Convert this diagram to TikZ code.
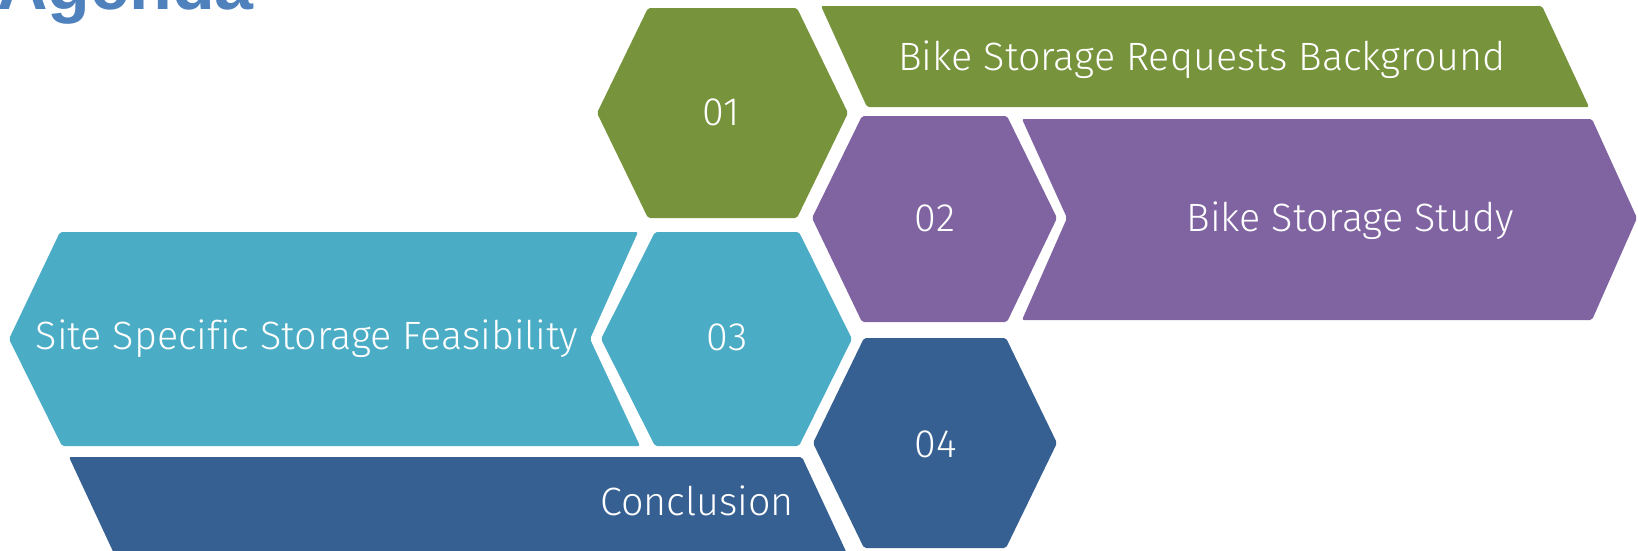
\documentclass[tikz,border=0pt]{standalone}
\usepackage{fontspec}
\setmainfont{Liberation Sans}
\newfontfamily\lightfont[Ligatures=CommonOff]{Fira Sans Light}
\definecolor{agendablue}{HTML}{4F81BD}
\definecolor{olivegreen}{HTML}{77933C}
\definecolor{lavender}{HTML}{8064A2}
\definecolor{aqua}{HTML}{4BACC6}
\definecolor{navy}{HTML}{366092}
\begin{document}
\begin{tikzpicture}[x=1pt, y=-1pt,
        tile/.style = {rounded corners=2pt},
        label/.style = {text=white, anchor=base, inner sep=0pt, font=\lightfont\fontsize{39.5}{47}\selectfont},
        number/.style = {label}]
            \useasboundingbox (0,0) rectangle (1638,550);
            \clip (0,0) rectangle (1638,550);
            % title, cut off at the top
            \node[anchor=base west, inner sep=0pt, text=agendablue, font=\bfseries\fontsize{70}{84}\selectfont] (title) at (-3,9) {Agenda};
            % step 01
            \fill[tile, olivegreen] (648,8) -- (797,8) -- (848,113) -- (797,218) -- (648,218) -- (597,113) -- cycle;
            \fill[tile, olivegreen] (821,6) -- (1542,6) -- (1589,107) -- (867,107) -- cycle;
            % step 02
            \fill[tile, lavender] (862,116) -- (1007,116) -- (1057,218) -- (1007,322) -- (862,322) -- (812,218) -- cycle;
            \fill[tile, lavender] (1022,119) -- (1592,119) -- (1637,218) -- (1592,320) -- (1022,320) -- (1067,218) -- cycle;
            % step 03
            \fill[tile, aqua] (655,232) -- (799,232) -- (852,339) -- (799,446) -- (655,446) -- (601,339) -- cycle;
            \fill[tile, aqua] (60,232) -- (638,232) -- (590,339) -- (640,446) -- (62,446) -- (9,339) -- cycle;
            % step 04
            \fill[tile, navy] (864,338) -- (1006,338) -- (1057,443) -- (1006,548) -- (864,548) -- (813,443) -- cycle;
            \fill[tile, navy] (69,457) -- (802,457) -- (850,560) -- (117,560) -- cycle;
            % numbers
            \node[number] (n01) at (721,125) {01};
            \node[number] (n02) at (935,231) {02};
            \node[number] (n03) at (727,350) {03};
            \node[number] (n04) at (936,457) {04};
            % topics
            \node[label] (background) at (1202,70) {Bike Storage Requests Background};
            \node[label] (study) at (1350,231) {Bike Storage Study};
            \node[label] (feasibility) at (307,349) {Site Specific Storage Feasibility};
            \node[label] (conclusion) at (697,515) {Conclusion};
\end{tikzpicture}
\end{document}
